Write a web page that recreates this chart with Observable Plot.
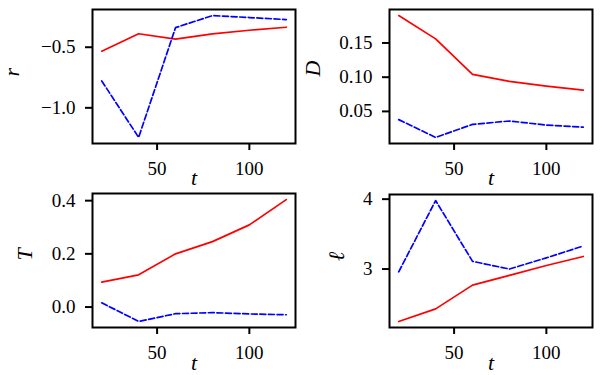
<!DOCTYPE html>
<html>
<head>
<meta charset="utf-8">
<script src="https://cdn.jsdelivr.net/npm/d3@7"></script>
<script src="https://cdn.jsdelivr.net/npm/@observablehq/plot@0.6"></script>
<style>
  html, body { margin: 0; padding: 0; background: white; }
  #root { position: relative; width: 607px; height: 375px; overflow: hidden; }
  .panel { position: absolute; }
  .panel svg { overflow: visible; }
</style>
</head>
<body>
<div id="root"></div>
<script>
// ---- data ----
const t = [20, 40, 60, 80, 100, 120];
const rRed  = [-0.533, -0.389, -0.433, -0.39, -0.36, -0.335];
const rBlue = [-0.778, -1.244, -0.338, -0.239, -0.255, -0.272];
const dRed  = [0.190, 0.156, 0.104, 0.094, 0.087, 0.081];
const dBlue = [0.038, 0.012, 0.031, 0.036, 0.030, 0.027];
const tRed  = [0.094, 0.121, 0.200, 0.246, 0.309, 0.404];
const tBlue = [0.016, -0.054, -0.025, -0.021, -0.026, -0.029];
const lRed  = [2.25, 2.43, 2.77, 2.91, 3.05, 3.18];
const lBlue = [2.96, 3.98, 3.11, 3.00, 3.16, 3.33];

const xTicks = [50, 100];
const FONT = "'Liberation Serif', 'DejaVu Serif', serif";
const panels = [
  {label: "r", red: rRed, blue: rBlue, ticks: [-1.0, -0.5], fmt: ".1f",
   left: 0, top: 0, width: 300, height: 185, m: [9, 5, 42, 92], ldx: -81, tdy: 41},
  {label: "D", red: dRed, blue: dBlue, ticks: [0.05, 0.10, 0.15], fmt: ".2f",
   left: 300, top: 0, width: 307, height: 185, m: [9, 15, 42, 89], ldx: -77, tdy: 41},
  {label: "T", red: tRed, blue: tBlue, ticks: [0.0, 0.2, 0.4], fmt: ".1f",
   left: 0, top: 185, width: 300, height: 190, m: [8, 5, 48, 92], ldx: -68, tdy: 42},
  {label: "\u2113", red: lRed, blue: lBlue, ticks: [3, 4], fmt: "d",
   left: 300, top: 185, width: 307, height: 190, m: [9, 15, 48, 89], ldx: -53, tdy: 42}
];

function pad(vals) {
  const lo = d3.min(vals), hi = d3.max(vals), p = (hi - lo) * 0.05;
  return [lo - p, hi + p];
}

const root = document.getElementById("root");
for (const p of panels) {
  const redRows = t.map((x, i) => ({x, v: p.red[i]}));
  const blueRows = t.map((x, i) => ({x, v: p.blue[i]}));
  const chart = Plot.plot({
    width: p.width,
    height: p.height,
    marginTop: p.m[0], marginRight: p.m[1], marginBottom: p.m[2], marginLeft: p.m[3],
    style: {fontFamily: FONT, fontSize: "19px", background: "white", color: "black"},
    x: {domain: pad(t), label: null},
    y: {domain: pad([...p.red, ...p.blue]), label: null},
    marks: [
      Plot.line(redRows, {x: "x", y: "v", stroke: "#ff0000", strokeWidth: 1.7}),
      Plot.line(blueRows, {x: "x", y: "v", stroke: "#0000ff", strokeWidth: 1.7, strokeDasharray: "6,2.6"}),
      Plot.frame({stroke: "black", strokeWidth: 2}),
      Plot.axisX({ticks: xTicks, tickSize: 7, tickPadding: 11, strokeWidth: 2, label: null,
                  tickFormat: d3.format("d"), fontFamily: FONT, fontSize: 19}),
      Plot.axisY({ticks: p.ticks, tickSize: 7, tickPadding: 10, strokeWidth: 2, label: null,
                  tickFormat: d3.format(p.fmt), fontFamily: FONT, fontSize: 19}),
      Plot.text(["t"], {frameAnchor: "bottom", text: d => d, dy: p.tdy, fontFamily: FONT, fontStyle: "italic", fontSize: 22, fill: "black"}),
      Plot.text([p.label], {frameAnchor: "left", text: d => d, dx: p.ldx, rotate: -90, fontFamily: FONT, fontStyle: "italic", fontSize: 22, fill: "black"})
    ]
  });
  const div = document.createElement("div");
  div.className = "panel";
  div.style.left = p.left + "px";
  div.style.top = p.top + "px";
  div.appendChild(chart);
  root.appendChild(div);
}
</script>
</body>
</html>
